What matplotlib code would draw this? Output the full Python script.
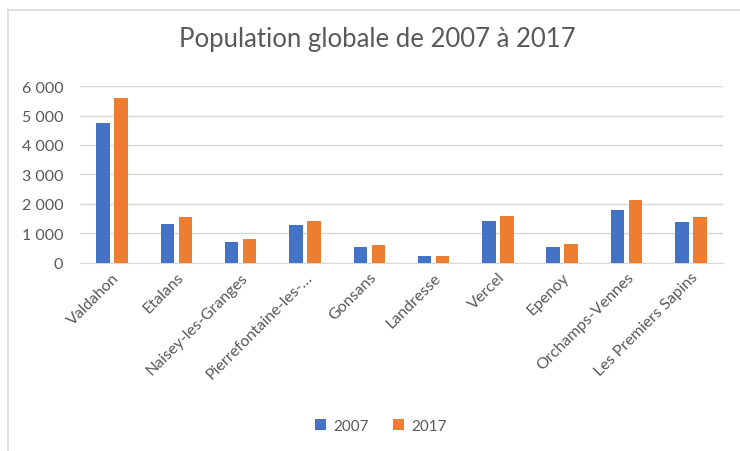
import matplotlib.pyplot as plt
import numpy as np
from matplotlib.ticker import FuncFormatter
from matplotlib.lines import Line2D

communes = ["Valdahon", "Etalans", "Naisey-les-Granges", "Pierrefontaine-les-…",
            "Gonsans", "Landresse", "Vercel", "Epenoy", "Orchamps-Vennes",
            "Les Premiers Sapins"]
pop_2007 = [4750, 1330, 710, 1290, 540, 225, 1430, 540, 1810, 1390]
pop_2017 = [5590, 1550, 810, 1430, 600, 225, 1600, 650, 2120, 1550]

plt.rcParams['font.family'] = ['Lato', 'DejaVu Sans']
grey = '#595959'

fig = plt.figure(figsize=(7.4, 4.52), dpi=100)
ax = fig.add_axes([0.108, 0.416, 0.869, 0.3915])

x = np.arange(len(communes))
w = 0.21
ax.bar(x - 0.14, pop_2007, w, color='#4472C4', label='2007', zorder=3)
ax.bar(x + 0.14, pop_2017, w, color='#ED7D31', label='2017', zorder=3)

ax.set_xlim(-0.5, len(communes) - 0.5)
ax.set_ylim(0, 6000)
ax.set_yticks(range(0, 6001, 1000))
ax.yaxis.set_major_formatter(FuncFormatter(lambda v, p: f"{int(v):,}".replace(",", " ")))
ax.grid(axis='y', color='#D9D9D9', lw=1, zorder=0)
for s in ['top', 'right', 'left']:
    ax.spines[s].set_visible(False)
ax.spines['bottom'].set_color('#D9D9D9')
ax.tick_params(length=0, colors=grey, labelsize=11.5)
ax.tick_params(axis='y', pad=12)
ax.tick_params(axis='x', pad=5)
ax.set_xticks(x)
ax.set_xticklabels(communes, rotation=45, ha='right', rotation_mode='anchor')

fig.suptitle("Population globale de 2007 à 2017", x=0.51, y=0.94, fontsize=18.5, color=grey)
fig.legend(loc='center', bbox_to_anchor=(0.515, 0.055), ncol=2, frameon=False,
           handlelength=0.7, handleheight=0.7, fontsize=11, labelcolor=grey,
           columnspacing=1.6, handletextpad=0.5)

# chart frame (cropped on right/bottom)
fig.add_artist(Line2D([0.011, 0.011], [0, 0.976], color='#D9D9D9', lw=1.2))
fig.add_artist(Line2D([0.011, 1], [0.976, 0.976], color='#D9D9D9', lw=1.2))

fig.savefig("out.png", dpi=100)
